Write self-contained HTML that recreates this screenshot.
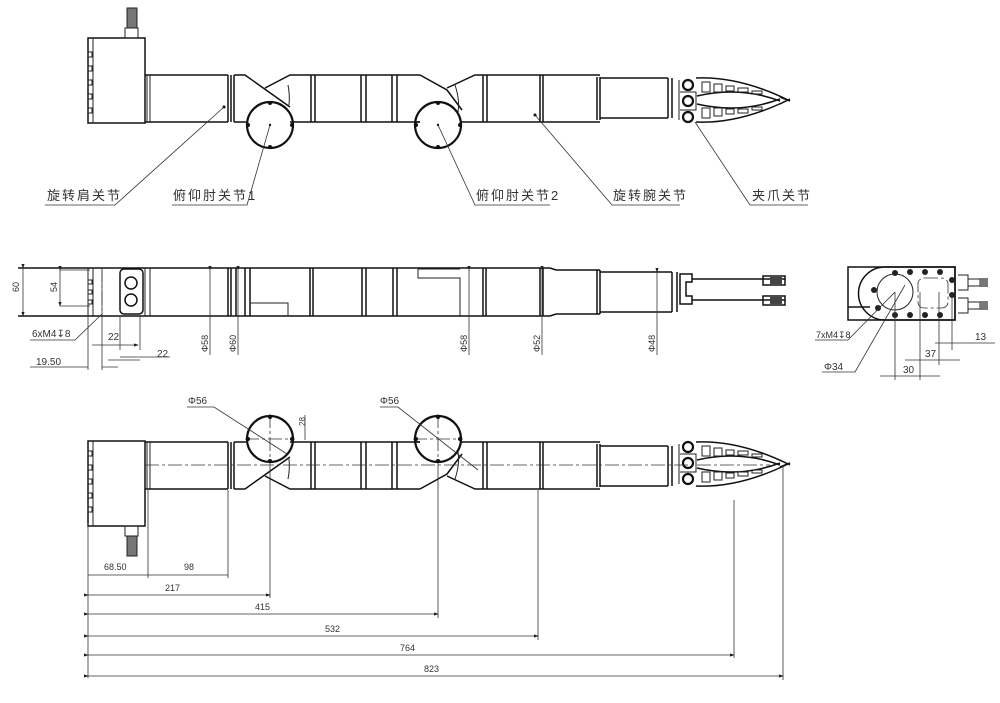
<!DOCTYPE html>
<html><head><meta charset="utf-8"><style>
html,body{margin:0;padding:0;background:#fff}
svg{display:block}
text{font-family:"Liberation Sans","Noto Sans CJK SC",sans-serif;fill:#333}
.l{fill:none;stroke:#222;stroke-width:1}
.t{fill:none;stroke:#111;stroke-width:1.5}
.k{fill:none;stroke:#111;stroke-width:2.2}
.d{fill:none;stroke:#333;stroke-width:0.8}
.c{fill:none;stroke:#333;stroke-width:0.8;stroke-dasharray:14 3 3 3}
</style></head><body>
<svg width="1000" height="703" viewBox="0 0 1000 703" xmlns="http://www.w3.org/2000/svg">
<defs>
<marker id="a" markerWidth="6" markerHeight="4" refX="5" refY="2" orient="auto"><path d="M0,0 L6,2 L0,4z" fill="#222"/></marker>
<g id="arm">
  <rect x="88" y="38" width="57" height="85" class="t"/>
  <line x1="93" y1="38" x2="93" y2="123" class="l"/>
  <rect x="88" y="52" width="4" height="5" class="l"/><rect x="88" y="66" width="4" height="5" class="l"/>
  <rect x="88" y="80" width="4" height="5" class="l"/><rect x="88" y="94" width="4" height="5" class="l"/>
  <rect x="88" y="108" width="4" height="5" class="l"/>
  <path d="M145,75 L228,75 M145,122 L228,122" class="t"/>
  <path d="M147,75 V122 M150,75 V122" class="l"/>
  <path d="M228,75 V122 M231,75 V122 M234,75 V122" class="t"/>
  <path d="M234,75 L245,75 L290,107" class="t"/>
  <path d="M265,88 L290,75 L420,75" class="t"/>
  <path d="M234,122 L246,122 M290,122 L420,122" class="t"/>
  <path d="M288,85 Q290,95 289,105" class="l"/>
  <circle cx="270" cy="125" r="23" class="k"/>
  <path d="M311,75 V122 M315,75 V122 M361,75 V122 M366,75 V122 M392,75 V122 M397,75 V122" class="t"/>
  <path d="M420,75 L447,90 L462,110" class="t"/>
  <path d="M447,88 L475,75 L600,75" class="t"/>
  <path d="M420,122 L415,122 M460,122 L600,122" class="t"/>
  <path d="M455,85 Q460,100 458,112" class="l"/>
  <circle cx="438" cy="125" r="23" class="k"/>
  <path d="M483,75 V122 M487,75 V122 M540,75 V122 M543,75 V122 M597,77 V120 M600,77 V120" class="t"/>
  <path d="M600,78 L668,78 M600,118 L668,118 M668,78 V118 M672,78 V118" class="t"/>
  <path d="M679,80 V120 M680,92 H696 V110 H680" class="l"/>
  <circle cx="688" cy="85" r="5" class="k"/><circle cx="688" cy="101" r="5" class="k"/><circle cx="688" cy="117" r="5" class="k"/>
  <path d="M696,78 Q740,76 790,101 L780,97 M696,122 Q740,124 790,99 L780,104" class="t"/>
  <path d="M697,96 Q740,86 780,101 M697,104 Q740,114 780,99" class="t"/>
  <path d="M702,82 h8 v10 h-8z M714,84 h8 v8 h-8z M726,86 h8 v5 h-8z M738,88 h10 v4 h-10z M752,91 h10 v3 h-10z" class="l"/>
  <path d="M702,108 h8 v10 h-8z M714,108 h8 v8 h-8z M726,109 h8 v5 h-8z M738,109 h10 v4 h-10z M752,107 h10 v3 h-10z" class="l"/>
</g>
</defs>

<use href="#arm"/>
<rect x="125" y="28" width="13" height="10" class="l"/>
<rect x="127" y="8" width="10" height="20" fill="#777" stroke="#222"/>
<g fill="#111">
<circle cx="270" cy="103" r="2"/><circle cx="270" cy="147" r="2"/><circle cx="248" cy="125" r="2"/><circle cx="292" cy="125" r="2"/><circle cx="270" cy="125" r="1.2"/>
<circle cx="438" cy="103" r="2"/><circle cx="438" cy="147" r="2"/><circle cx="416" cy="125" r="2"/><circle cx="460" cy="125" r="2"/><circle cx="438" cy="125" r="1.2"/>
<circle cx="224" cy="107" r="1.5"/><circle cx="535" cy="115" r="1.5"/>
</g>
<path d="M45,205 H115 L224,107" class="d"/>
<path d="M172,205 H247 L270,125" class="d"/>
<path d="M550,205 H475 L438,125" class="d"/>
<path d="M680,205 H612 L535,115" class="d"/>
<path d="M808,205 H750 L695,122" class="d"/>
<g font-size="13" letter-spacing="2">
<text x="47" y="200">旋转肩关节</text>
<text x="173" y="200">俯仰肘关节1</text>
<text x="476" y="200">俯仰肘关节2</text>
<text x="613" y="200">旋转腕关节</text>
<text x="752" y="200">夹爪关节</text>
</g>

<g>
<path d="M18,268 H550 M18,316 H550" class="t"/>
<path d="M88,268 V316 M93,268 V316 M145,268 V316 M150,268 V316" class="l"/>
<rect x="88" y="280" width="4" height="4" class="l"/><rect x="88" y="290" width="4" height="4" class="l"/><rect x="88" y="300" width="4" height="4" class="l"/>
<path d="M102,268 V316" class="c"/>
<rect x="120" y="269" width="23" height="45" rx="4" class="t"/>
<circle cx="131" cy="283" r="6" class="t"/><circle cx="131" cy="300" r="6" class="t"/>
<path d="M228,268 V316 M231,268 V316 M236,268 V316 M245,268 V316 M250,268 V316" class="t"/>
<path d="M250,303 H288 V316" class="l"/>
<path d="M310,268 V316 M313,268 V316 M362,268 V316 M366,268 V316 M393,268 V316 M397,268 V316" class="t"/>
<path d="M418,269 H460 M418,269 V278 H460 V316" class="l"/>
<path d="M483,268 V316 M486,268 V316 M540,268 V316 M543,268 V316" class="t"/>
<path d="M550,268 L556,270 H600 M550,316 L556,314 H600 M597,270 V314 M600,270 V314 M600,272 H672 M600,312 H672 M672,272 V312 M677,272 V312" class="t"/>
<path d="M680,274 H692 V282 H686 V296 H692 V304 H680z M692,279 H785 M692,300 H785 M763,276 H785 V285 H763z M763,296 H785 V305 H763z" class="t"/>
<rect x="770" y="277" width="12" height="7" fill="#444"/><rect x="770" y="297" width="12" height="7" fill="#444"/>
<path d="M23,268 V316" class="d" marker-start="url(#a)" marker-end="url(#a)"/>
<path d="M60,270 V306" class="d" marker-start="url(#a)" marker-end="url(#a)"/>
<path d="M60,270 H90 M60,306 H90" class="d"/>
<text x="14" y="297" font-size="9" transform="rotate(-90 14 292)">60</text>
<text x="52" y="297" font-size="9" transform="rotate(-90 52 292)">54</text>
<path d="M102,268 V320 M88,316 V370 M102,316 V370 M120,316 V350 M140,316 V350" class="d"/>
<path d="M102,314 L75,340 H30" class="d"/>
<text x="32" y="337" font-size="10">6xM4↧8</text>
<path d="M92,345 H138" class="d" marker-end="url(#a)"/>
<text x="108" y="340" font-size="10">22</text>
<path d="M108,360 H140 M120,357 H170" class="d"/>
<text x="157" y="357" font-size="10">22</text>
<text x="36" y="365" font-size="10">19.50</text>
<path d="M30,367 H88 M102,367 H118" class="d"/>
<path d="M210,270 V355" class="d" marker-start="url(#a)"/>
<path d="M238,270 V355" class="d" marker-start="url(#a)"/>
<path d="M469,270 V355" class="d" marker-start="url(#a)"/>
<path d="M542,270 V355" class="d" marker-start="url(#a)"/>
<path d="M657,272 V355" class="d" marker-start="url(#a)"/>
<g font-size="9">
<text transform="translate(208,352) rotate(-90)">Φ58</text>
<text transform="translate(236,352) rotate(-90)">Φ60</text>
<text transform="translate(467,352) rotate(-90)">Φ58</text>
<text transform="translate(540,352) rotate(-90)">Φ52</text>
<text transform="translate(655,352) rotate(-90)">Φ48</text>
</g>
</g>

<g>
<path d="M848,267 H955 V320 H848z M848,307 H870" class="t"/>
<path d="M885,267 H955 V320 H885 A26 26 0 0 1 885,267z" class="t"/>
<circle cx="895" cy="292" r="18" class="l"/>
<rect x="918" y="278" width="30" height="30" rx="6" class="c"/>
<g fill="#222">
<circle cx="895" cy="273" r="3"/><circle cx="910" cy="272" r="3"/><circle cx="925" cy="272" r="3"/><circle cx="940" cy="272" r="3"/>
<circle cx="895" cy="315" r="3"/><circle cx="910" cy="315" r="3"/><circle cx="925" cy="315" r="3"/><circle cx="940" cy="315" r="3"/>
<circle cx="874" cy="290" r="3"/><circle cx="878" cy="308" r="3"/><circle cx="952" cy="280" r="3"/><circle cx="952" cy="295" r="3"/>
</g>
<path d="M958,275 H968 V290 H958 M958,298 H968 V313 H958 M968,279 H980 V286 H968 M968,302 H980 V309 H968" class="l"/>
<rect x="980" y="278" width="8" height="9" fill="#777"/><rect x="980" y="301" width="8" height="9" fill="#777"/>
<path d="M895,292 V380 M920,292 V380 M952,292 V350 M939,292 V365" class="d"/>
<path d="M895,292 L848,340 H815" class="d"/>
<path d="M905,285 L855,372 H822" class="d"/>
<text x="816" y="338" font-size="9">7xM4↧8</text>
<text x="824" y="370" font-size="10">Φ34</text>
<path d="M935,343 H995" class="d"/><text x="975" y="340" font-size="10">13</text>
<path d="M905,360 H960" class="d"/><text x="925" y="357" font-size="10">37</text>
<path d="M880,376 H940" class="d"/><text x="903" y="373" font-size="10">30</text>
</g>

<g transform="translate(0,564) scale(1,-1)"><use href="#arm"/></g>
<rect x="125" y="526" width="13" height="10" class="l"/>
<rect x="127" y="536" width="10" height="20" fill="#777" stroke="#222"/>
<path d="M145,465 H770" class="c"/>
<path d="M245,439 H295 M270,414 V464 M413,439 H463 M438,414 V464" class="c" stroke-dasharray="5 3"/>
<g fill="#111">
<circle cx="270" cy="417" r="2"/><circle cx="270" cy="461" r="2"/><circle cx="248" cy="439" r="2"/><circle cx="292" cy="439" r="2"/>
<circle cx="438" cy="417" r="2"/><circle cx="438" cy="461" r="2"/><circle cx="416" cy="439" r="2"/><circle cx="460" cy="439" r="2"/>
</g>
<path d="M187,407 H214 L287,454" class="d"/>
<path d="M380,407 H398 L478,470" class="d"/>
<text x="188" y="404" font-size="10">Φ56</text>
<text x="380" y="404" font-size="10">Φ56</text>
<path d="M305,415 V440" class="d"/><text transform="translate(305,426) rotate(-90)" font-size="8">28</text>
<path d="M88,523 V678 M148,490 V578 M228,490 V578 M270,464 V598 M438,464 V618 M538,490 V640 M734,500 V658 M783,465 V680" class="d"/>
<path d="M88,575 H228" class="d"/>
<text x="104" y="570" font-size="9">68.50</text><text x="184" y="570" font-size="9">98</text>
<path d="M88,595 H270" class="d" marker-start="url(#a)" marker-end="url(#a)"/><text x="165" y="591" font-size="9">217</text>
<path d="M88,614 H438" class="d" marker-start="url(#a)" marker-end="url(#a)"/><text x="255" y="610" font-size="9">415</text>
<path d="M88,636 H538" class="d" marker-start="url(#a)" marker-end="url(#a)"/><text x="325" y="632" font-size="9">532</text>
<path d="M88,655 H734" class="d" marker-start="url(#a)" marker-end="url(#a)"/><text x="400" y="651" font-size="9">764</text>
<path d="M88,676 H783" class="d" marker-start="url(#a)" marker-end="url(#a)"/><text x="424" y="672" font-size="9">823</text>
</svg>
</body></html>
